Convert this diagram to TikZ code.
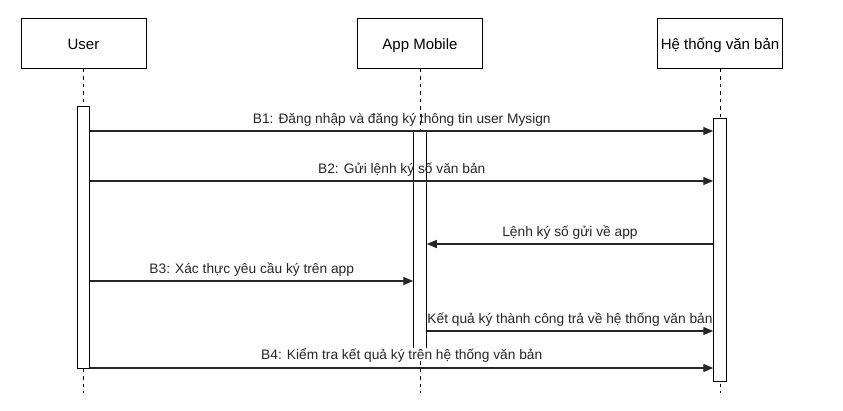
\documentclass[tikz,border=0pt]{standalone}
\usepackage{fontspec}
\setmainfont{Liberation Sans}
\usepackage{tikz}
\usetikzlibrary{arrows.meta}

\tikzset{
  actor/.style={draw,line width=1pt,minimum width=125pt,minimum height=50pt,inner sep=0pt,text height=12.5pt,text depth=0pt,font=\fontsize{15}{18}\selectfont},
  bar/.style={draw,fill=white,line width=1pt,minimum width=12.5pt,inner sep=0pt,anchor=north},
  life/.style={line width=1pt,dash pattern=on 3.75pt off 3.75pt},
  msg/.style={line width=1.25pt,color=black!85,-{Triangle[length=10pt,width=8pt]}},
  lbl/.style={inner sep=0pt,text depth=0pt,above=6.5pt,text=black!85,font=\fontsize{13.75}{16}\selectfont}
}

\begin{document}
\begin{tikzpicture}[x=1pt,y=-1pt]
                 \useasboundingbox (0,0) rectangle (843,410);
                 \node[actor](user)at(83.5,43){User};
                 \node[actor](app)at(420,43){App Mobile};
                 \node[actor](sys)at(720,43){Hệ thống văn bản};
                 \coordinate (uend) at (83.5,393);
                 \coordinate (aend) at (420,393);
                 \coordinate (send) at (720,393);
                 \draw[life](user.south)--(uend);
                 \draw[life](app.south)--(aend);
                 \draw[life](sys.south)--(send);
                 \node[bar,minimum height=262pt](ubar)at(83.5,106){};
                 \node[bar,minimum height=217pt](abar)at(420,131){};
                 \node[bar,minimum height=263pt](sbar)at(720,118){};
                 \coordinate (m1) at (0,131);
                 \coordinate (m2) at (0,181);
                 \coordinate (m3) at (0,244);
                 \coordinate (m4) at (0,281);
                 \coordinate (m5) at (0,331);
                 \coordinate (m6) at (0,368);
                 \draw[msg](ubar.east|-m1)--(sbar.west|-m1) node[lbl,midway](t1){B1: Đăng nhập và đăng ký thông tin user Mysign};
                 \draw[msg](ubar.east|-m2)--(sbar.west|-m2) node[lbl,midway](t2){B2: Gửi lệnh ký số văn bản};
                 \draw[msg](sbar.west|-m3)--(abar.east|-m3) node[lbl,midway](t3){Lệnh ký số gửi về app};
                 \draw[msg](ubar.east|-m4)--(abar.west|-m4) node[lbl,midway](t4){B3: Xác thực yêu cầu ký trên app};
                 \draw[msg](abar.east|-m5)--(sbar.west|-m5) node[lbl,midway](t5){Kết quả ký thành công trả về hệ thống văn bản};
                 \draw[msg](ubar.east|-m6)--(sbar.west|-m6) node[lbl,midway,fill=white,inner sep=1pt](t6){B4: Kiểm tra kết quả ký trên hệ thống văn bản};
               \end{tikzpicture}
\end{document}
